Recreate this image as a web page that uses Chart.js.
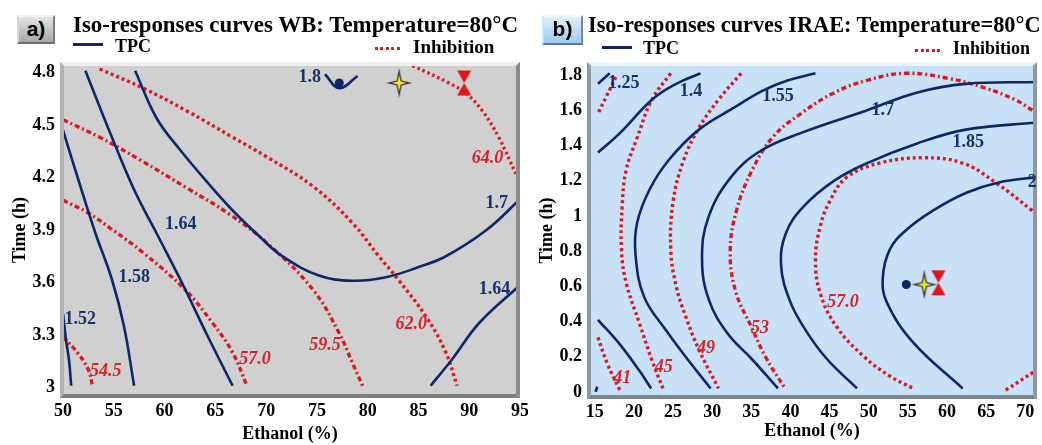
<!DOCTYPE html>
<html>
<head>
<meta charset="utf-8">
<script src="https://cdn.jsdelivr.net/npm/chart.js@4.4.1/dist/chart.umd.min.js"></script>
<style>
    html, body { margin: 0; padding: 0; background: #fff; }
    #wrap { position: relative; width: 1042px; height: 445px; overflow: hidden; font-family: "Liberation Serif", "Times New Roman", serif; }
    canvas { position: absolute; top: 0; }
    #chartA { left: 0; }
    #chartB { left: 522px; }
    .txt { position: absolute; white-space: nowrap; font-weight: bold; color: #000; line-height: 1; z-index: 2; }
    .title { top: 14px; }
    .leg { top: 37px; font-size: 18px; }
    .tag { position: absolute; box-sizing: border-box; font-family: "Liberation Sans", Arial, sans-serif; font-weight: bold; font-size: 21px; line-height: 24px; text-align: center; color: #000; z-index: 2; }
    .tagA { left: 17px; top: 15px; width: 38px; height: 29px; background: linear-gradient(180deg, #e4e4e4, #a8a8a8); border: 2px solid; border-color: #f2f2f2 #7c7c7c #6e6e6e #d8d8d8; }
    .tagB { left: 542px; top: 15px; width: 41px; height: 30px; background: linear-gradient(180deg, #dff0fd, #9fcaee); border: 2px solid; border-color: #f0f8ff #6f8aa3 #637d96 #cfe6f8; }
    .lineNavy { position: absolute; height: 3px; background: #0f2769; z-index: 2; }
    .dotsRed { position: absolute; height: 3px; background: repeating-linear-gradient(90deg, #d81b22 0 3px, transparent 3px 5.5px); z-index: 2; }
</style>
</head>
<body>
<div id="wrap">
    <canvas id="chartA" width="528" height="445"></canvas>
    <canvas id="chartB" width="520" height="445"></canvas>

    <div class="tag tagA">a)</div>
    <div class="txt title" style="left:73px;font-size:22.9px;">Iso-responses curves WB: Temperature=80°C</div>
    <div class="lineNavy" style="left:73px;top:43px;width:30px;"></div>
    <div class="txt leg" style="left:115px;">TPC</div>
    <div class="dotsRed" style="left:375px;top:47px;width:27px;"></div>
    <div class="txt leg" style="left:413px;font-size:19px;">Inhibition</div>

    <div class="tag tagB">b)</div>
    <div class="txt title" style="left:588px;font-size:22.3px;">Iso-responses curves IRAE: Temperature=80°C</div>
    <div class="lineNavy" style="left:602px;top:46px;width:30px;"></div>
    <div class="txt leg" style="left:643px;top:39px;">TPC</div>
    <div class="dotsRed" style="left:915px;top:49px;width:27px;"></div>
    <div class="txt leg" style="left:953px;top:39px;">Inhibition</div>
</div>
<script>
const NAVY = '#0f2769';
const RED = '#d81b22';

// ---- panel a) WB : Ethanol (%) vs Time (h)
const wbEthanolTicks = [50, 55, 60, 65, 70, 75, 80, 85, 90, 95];
const wbTimeTicks = [3, 3.3, 3.6, 3.9, 4.2, 4.5, 4.8];

const wbTpc152 = [[50.0, 3.42], [50.3, 3.27], [50.6, 3.15], [50.8, 3.01]];
const wbTpc158 = [[50.0, 4.47], [51.6, 4.17], [53.2, 3.88], [54.8, 3.62], [56.0, 3.35], [57.0, 3.01]];
const wbTpc164a = [[52.2, 4.81], [54.6, 4.46], [57.0, 4.13], [59.4, 3.86], [61.7, 3.60], [64.1, 3.31], [66.7, 3.01]];
const wbTpc17 = [[57.1, 4.81], [59.2, 4.54], [61.5, 4.36], [64.4, 4.16], [66.9, 4.00], [69.4, 3.86], [71.6, 3.75], [75.2, 3.64], [78.5, 3.61], [81.8, 3.63], [85.1, 3.69], [87.7, 3.75], [91.7, 3.90], [94.9, 4.07]];
const wbTpc164b = [[86.2, 3.01], [88.3, 3.16], [91.0, 3.37], [94.9, 3.58]];
const wbTpc18 = [[75.8, 4.79], [77.2, 4.71], [79.0, 4.78]];

const wbInh545 = [[50.0, 3.29], [51.4, 3.20], [52.5, 3.10], [52.9, 3.01]];
const wbInh570 = [[50.0, 4.07], [52.4, 4.00], [54.9, 3.90], [57.9, 3.77], [62.0, 3.56], [64.7, 3.37], [66.7, 3.20], [68.1, 3.01]];
const wbInh595 = [[50.0, 4.53], [53.6, 4.43], [57.6, 4.30], [62.2, 4.14], [66.4, 3.99], [70.0, 3.83], [74.6, 3.56], [77.2, 3.31], [78.5, 3.14], [79.5, 3.01]];
const wbInh620 = [[53.6, 4.82], [57.9, 4.71], [62.2, 4.58], [66.7, 4.43], [70.0, 4.32], [74.6, 4.15], [78.5, 3.94], [81.1, 3.75], [83.1, 3.61], [85.8, 3.40], [87.7, 3.20], [88.8, 3.01]];
const wbInh640 = [[84.4, 4.84], [88.0, 4.74], [89.7, 4.68], [91.3, 4.58], [92.9, 4.43], [94.6, 4.22]];

const wbOptTpc = [77.2, 4.74];
const wbOptBoth = [83.1, 4.74];
const wbOptInh = [89.5, 4.74];

const wbTpcLabels = [['1.52', 51.7, 3.39], ['1.58', 57.0, 3.63], ['1.64', 61.6, 3.93], ['1.7', 92.7, 4.05], ['1.64', 92.5, 3.56], ['1.8', 74.3, 4.77]];
const wbInhLabels = [['54.5', 54.2, 3.09], ['57.0', 68.9, 3.16], ['59.5', 75.8, 3.24], ['62.0', 84.3, 3.36], ['64.0', 91.8, 4.31]];

// ---- panel b) IRAE
const iraeEthanolTicks = [15, 20, 25, 30, 35, 40, 45, 50, 55, 60, 65, 70];
const iraeTimeTicks = [0, 0.2, 0.4, 0.6, 0.8, 1, 1.2, 1.4, 1.6, 1.8];

const iraeTpc125a = [[15.4, 1.75], [16.9, 1.81]];
const iraeTpc125b = [[15.1, 0.0], [15.3, 0.03]];
const iraeTpc14a = [[15.4, 1.36], [18.2, 1.47], [22.3, 1.66], [25.4, 1.75], [28.5, 1.81]];
const iraeTpc14b = [[15.4, 0.41], [18.2, 0.27], [20.7, 0.12], [22.2, 0.02]];
const iraeTpc155 = [[43.2, 1.81], [39.7, 1.77], [36.4, 1.71], [33.0, 1.62], [28.3, 1.49], [24.5, 1.32], [22.0, 1.15], [20.4, 0.96], [20.2, 0.78], [21.3, 0.54], [24.1, 0.35], [26.6, 0.20], [29.8, 0.02]];
const iraeTpc17 = [[71.5, 1.76], [62.4, 1.75], [56.1, 1.70], [49.8, 1.60], [41.3, 1.47], [36.2, 1.37], [32.4, 1.22], [29.5, 0.99], [28.7, 0.75], [29.6, 0.52], [32.0, 0.33], [35.0, 0.19], [38.4, 0.02]];
const iraeTpc185 = [[71.5, 1.53], [62.4, 1.49], [56.1, 1.41], [49.8, 1.30], [45.6, 1.20], [41.6, 1.05], [39.4, 0.90], [38.8, 0.72], [39.9, 0.52], [41.8, 0.36], [44.6, 0.19], [48.5, 0.02]];
const iraeTpc2 = [[71.5, 1.22], [66.6, 1.19], [62.4, 1.13], [58.2, 1.03], [54.8, 0.92], [52.7, 0.81], [51.8, 0.65], [52.3, 0.51], [55.7, 0.28], [62.0, 0.02]];

const iraeInh41a = [[15.5, 1.59], [16.5, 1.68], [17.8, 1.80]];
const iraeInh41b = [[15.4, 0.31], [16.6, 0.16], [18.2, 0.01]];
const iraeInh45 = [[24.7, 1.81], [22.3, 1.66], [20.3, 1.43], [19.0, 1.26], [18.5, 1.06], [18.4, 0.81], [19.0, 0.62], [20.7, 0.39], [22.3, 0.18], [23.8, 0.01]];
const iraeInh49 = [[33.7, 1.81], [30.8, 1.66], [28.3, 1.50], [26.3, 1.31], [25.0, 1.08], [24.7, 0.81], [25.4, 0.60], [26.6, 0.43], [28.3, 0.24], [30.8, 0.02]];
const iraeInh53 = [[70.9, 1.60], [68.7, 1.66], [64.6, 1.73], [60.3, 1.78], [54.8, 1.81], [49.8, 1.77], [45.6, 1.70], [41.3, 1.58], [37.8, 1.45], [35.1, 1.26], [33.1, 1.03], [32.3, 0.80], [33.0, 0.57], [35.0, 0.37], [36.8, 0.20], [39.3, 0.02]];
const iraeInh57 = [[70.9, 1.03], [66.2, 1.19], [62.0, 1.30], [57.0, 1.33], [51.4, 1.30], [47.2, 1.22], [45.1, 1.09], [43.8, 0.94], [43.2, 0.75], [43.8, 0.56], [45.9, 0.37], [49.4, 0.20], [52.7, 0.09], [55.7, 0.02]];
const iraeInh61 = [[67.5, 0.01], [71.3, 0.12]];

const iraeOptTpc = [54.8, 0.61];
const iraeOptBoth = [57.1, 0.61];
const iraeOptInh = [58.9, 0.62];

const iraeTpcLabels = [['1.25', 18.7, 1.75], ['1.4', 27.3, 1.71], ['1.55', 38.4, 1.68], ['1.7', 51.8, 1.60], ['1.85', 62.7, 1.42], ['2', 70.9, 1.19]];
const iraeInhLabels = [['41', 18.5, 0.08], ['45', 23.8, 0.14], ['49', 29.2, 0.25], ['53', 36.1, 0.36], ['57.0', 46.7, 0.51]];

const SERIF = '"Liberation Serif", "Times New Roman", serif';

function pts(arr) {
    return arr.map(function (p) {
        return { x: p[0], y: p[1] };
    });
}

function tpcLine(arr) {
    return { data: pts(arr), showLine: true, borderColor: NAVY, borderWidth: 2.6, pointRadius: 0, tension: 0.4, fill: false };
}

function inhLine(arr, dash) {
    return { data: pts(arr), showLine: true, borderColor: RED, borderWidth: 3.4, borderDash: dash || [3, 3], pointRadius: 0, tension: 0.4, fill: false };
}

function makeStar() {
    const c = document.createElement('canvas');
    c.width = 28;
    c.height = 32;
    const g = c.getContext('2d');
    g.translate(14, 16);
    function star(s) {
        g.beginPath();
        g.moveTo(0, -15 * s);
        g.lineTo(2.6 * s, -2.6 * s);
        g.lineTo(13 * s, 0);
        g.lineTo(2.6 * s, 2.6 * s);
        g.lineTo(0, 15 * s);
        g.lineTo(-2.6 * s, 2.6 * s);
        g.lineTo(-13 * s, 0);
        g.lineTo(-2.6 * s, -2.6 * s);
        g.closePath();
    }
    star(1);
    g.fillStyle = '#3e3e3e';
    g.fill();
    star(0.55);
    g.fillStyle = '#f4ec1e';
    g.fill();
    return c;
}

function makeHourglass() {
    const c = document.createElement('canvas');
    c.width = 16;
    c.height = 27;
    const g = c.getContext('2d');
    g.beginPath();
    g.moveTo(1, 1);
    g.lineTo(15, 1);
    g.lineTo(8, 13.5);
    g.closePath();
    g.moveTo(8, 13.5);
    g.lineTo(15, 26);
    g.lineTo(1, 26);
    g.closePath();
    g.fillStyle = '#df141c';
    g.fill();
    return c;
}

const starImg = makeStar();
const hourglassImg = makeHourglass();

function markers(dot, both, inh) {
    return [
        { data: pts([dot]), showLine: false, pointStyle: 'circle', pointRadius: 4.5, backgroundColor: NAVY, borderWidth: 0 },
        { data: pts([both]), showLine: false, pointStyle: starImg, pointRadius: 3 },
        { data: pts([inh]), showLine: false, pointStyle: hourglassImg, pointRadius: 3 },
    ];
}

// background, bevelled frame and contour labels
const framePlugin = {
    id: 'frame',
    beforeDatasetsDraw: function (chart, args, opts) {
        const a = chart.chartArea;
        const ctx = chart.ctx;
        ctx.save();
        ctx.fillStyle = opts.bg;
        ctx.fillRect(a.left, a.top, a.right - a.left, a.bottom - a.top);
        ctx.restore();
    },
    afterDatasetsDraw: function (chart, args, opts) {
        const a = chart.chartArea;
        const ctx = chart.ctx;
        const w = 4;
        const l = a.left, t = a.top, r = a.right, b = a.bottom;
        function quad(p, color) {
            ctx.beginPath();
            ctx.moveTo(p[0], p[1]);
            ctx.lineTo(p[2], p[3]);
            ctx.lineTo(p[4], p[5]);
            ctx.lineTo(p[6], p[7]);
            ctx.closePath();
            ctx.fillStyle = color;
            ctx.fill();
        }
        ctx.save();
        quad([l, t, r, t, r - w, t + w, l + w, t + w], opts.top);
        quad([l, t, l + w, t + w, l + w, b - w, l, b], opts.left);
        quad([r, t, r, b, r - w, b - w, r - w, t + w], opts.right);
        quad([l, b, r, b, r - w, b - w, l + w, b - w], opts.bottom);

        const xs = chart.scales.x;
        const ys = chart.scales.y;
        ctx.textAlign = 'center';
        ctx.textBaseline = 'middle';
        ctx.font = 'bold 18px ' + SERIF;
        ctx.fillStyle = '#17306f';
        opts.tpcLabels.forEach(function (lab) {
            ctx.fillText(lab[0], xs.getPixelForValue(lab[1]), ys.getPixelForValue(lab[2]));
        });
        ctx.font = 'italic bold 18px ' + SERIF;
        ctx.fillStyle = '#d3232b';
        opts.inhLabels.forEach(function (lab) {
            ctx.fillText(lab[0], xs.getPixelForValue(lab[1]), ys.getPixelForValue(lab[2]));
        });
        ctx.restore();
    },
};

function tickList(list) {
    return function (axis) {
        axis.ticks = list.map(function (v) {
            return { value: v };
        });
    };
}

function buildChart(canvasId, cfg) {
    const tickFont = { family: SERIF, size: 18, weight: 'bold' };
    return new Chart(document.getElementById(canvasId), {
        type: 'scatter',
        data: { datasets: cfg.datasets },
        plugins: [framePlugin],
        options: {
            responsive: false,
            animation: false,
            devicePixelRatio: 1,
            layout: { padding: { top: 62, right: cfg.rightPad, left: 0, bottom: 0 } },
            plugins: {
                legend: { display: false },
                tooltip: { enabled: false },
                frame: cfg.frame,
            },
            scales: {
                x: {
                    type: 'linear',
                    min: cfg.xMin,
                    max: cfg.xMax,
                    afterBuildTicks: tickList(cfg.xTicks),
                    afterFit: function (axis) {
                        axis.height = cfg.xHeight;
                        axis.paddingLeft = 0;
                        axis.paddingRight = 0;
                    },
                    grid: { display: false, drawTicks: false },
                    border: { display: false },
                    ticks: { color: '#000', font: tickFont, padding: 3, autoSkip: false, maxRotation: 0, callback: function (v) { return String(v); } },
                    title: { display: true, text: 'Ethanol (%)', color: '#000', font: tickFont, padding: { top: 0, bottom: cfg.xTitlePad } },
                },
                y: {
                    type: 'linear',
                    min: cfg.yMin,
                    max: cfg.yMax,
                    afterBuildTicks: tickList(cfg.yTicks),
                    afterFit: function (axis) {
                        axis.width = cfg.yWidth;
                        axis.paddingTop = 0;
                        axis.paddingBottom = 0;
                    },
                    grid: { display: false, drawTicks: false },
                    border: { display: false },
                    ticks: { color: '#000', font: tickFont, padding: 5, autoSkip: false, callback: function (v) { return String(v); } },
                    title: { display: true, text: 'Time (h)', color: '#000', font: tickFont, padding: { top: cfg.yTitlePad, bottom: 0 } },
                },
            },
        },
    });
}

buildChart('chartA', {
    xMin: 49.7, xMax: 95, yMin: 2.94, yMax: 4.86,
    xTicks: wbEthanolTicks, yTicks: wbTimeTicks,
    yWidth: 60, xHeight: 47, rightPad: 8, yTitlePad: 10, xTitlePad: 0,
    frame: {
        bg: '#d0d0d0', top: '#eeeeee', left: '#b2b2b2', right: '#8a8a8a', bottom: '#7e7e7e',
        tpcLabels: wbTpcLabels, inhLabels: wbInhLabels,
    },
    datasets: markers(wbOptTpc, wbOptBoth, wbOptInh).concat([
        tpcLine(wbTpc152), tpcLine(wbTpc158), tpcLine(wbTpc164a), tpcLine(wbTpc17), tpcLine(wbTpc164b), tpcLine(wbTpc18),
        inhLine(wbInh545, [5, 3, 2, 3]), inhLine(wbInh570, [5, 3, 2, 3]), inhLine(wbInh595, [5, 3, 2, 3]),
        inhLine(wbInh620, [3, 3]), inhLine(wbInh640, [2.5, 3]),
    ]),
});

buildChart('chartB', {
    xMin: 14.0, xMax: 71.5, yMin: -0.04, yMax: 1.874,
    xTicks: iraeEthanolTicks, yTicks: iraeTimeTicks,
    yWidth: 65, xHeight: 46, rightPad: 0, yTitlePad: 15, xTitlePad: 3,
    frame: {
        bg: '#c8e1f7', top: '#eef6fd', left: '#8f979f', right: '#8f979f', bottom: '#7d858d',
        tpcLabels: iraeTpcLabels, inhLabels: iraeInhLabels,
    },
    datasets: markers(iraeOptTpc, iraeOptBoth, iraeOptInh).concat([
        tpcLine(iraeTpc125a), tpcLine(iraeTpc125b), tpcLine(iraeTpc14a), tpcLine(iraeTpc14b),
        tpcLine(iraeTpc155), tpcLine(iraeTpc17), tpcLine(iraeTpc185), tpcLine(iraeTpc2),
        inhLine(iraeInh41a), inhLine(iraeInh41b), inhLine(iraeInh45), inhLine(iraeInh49),
        inhLine(iraeInh53, [5, 3, 2, 3]), inhLine(iraeInh57, [3, 3]), inhLine(iraeInh61),
    ]),
});
</script>
</body>
</html>
